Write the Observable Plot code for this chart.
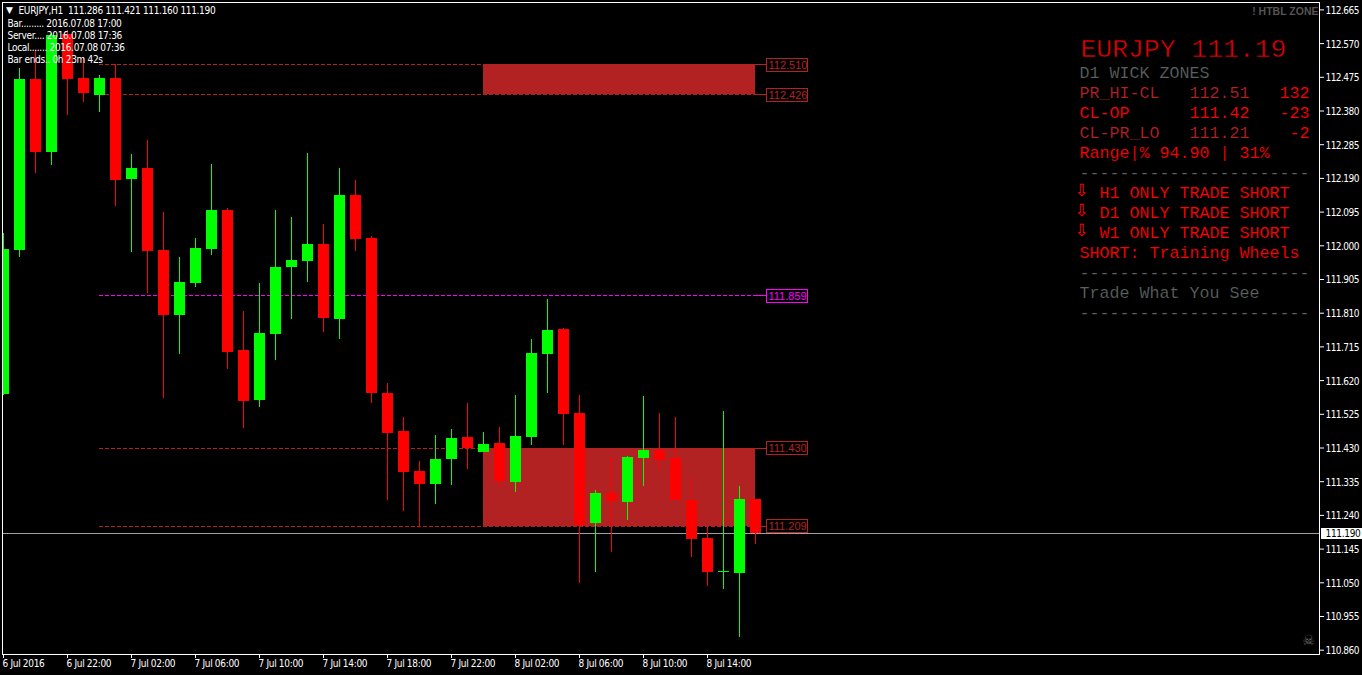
<!DOCTYPE html>
<html><head><meta charset="utf-8">
<script src="https://cdn.jsdelivr.net/npm/d3@7"></script>
<script src="https://cdn.jsdelivr.net/npm/@observablehq/plot@0.6"></script>
<style>html,body{margin:0;padding:0;background:#000;overflow:hidden}svg{display:block}
g[font-family*="Condensed"],text[font-family*="Condensed"]{letter-spacing:-.32px}
g[aria-label="y-axis tick label"],g[aria-label="last price label"]{letter-spacing:-.55px}
g[aria-label="y-axis tick label"] text,g[aria-label="last price label"] text{letter-spacing:-.55px}
</style>
</head><body><div id="chart"></div>
<script>
const opens  = [111.582,111.989,112.470,112.265,112.597,112.473,112.425,112.473,112.188,112.220,111.988,111.805,111.895,111.991,112.101,111.706,111.565,111.752,111.940,111.957,112.005,111.794,112.143,112.022,111.585,111.478,111.365,111.329,111.399,111.461,111.419,111.444,111.334,111.461,111.695,111.766,111.529,111.219,111.303,111.278,111.402,111.424,111.402,111.283,111.176,111.081,111.078,111.286];
const highs  = [112.036,112.501,112.552,112.600,112.609,112.532,112.482,112.513,112.259,112.298,112.095,111.969,112.022,112.231,112.107,111.816,111.895,112.101,112.081,112.262,112.062,112.220,112.186,112.028,111.613,111.518,111.393,111.467,111.484,111.557,111.475,111.489,111.580,111.737,111.850,111.768,111.580,111.312,111.405,111.408,111.577,111.529,111.518,111.348,111.210,111.534,111.323,111.286];
const lows   = [111.580,111.969,112.206,112.228,112.369,112.406,112.377,112.112,111.984,111.867,111.572,111.695,111.885,111.974,111.653,111.487,111.546,111.678,111.794,111.898,111.757,111.737,111.986,111.557,111.283,111.252,111.208,111.272,111.326,111.371,111.419,111.323,111.306,111.439,111.585,111.439,111.049,111.081,111.137,111.227,111.323,111.368,111.283,111.123,111.041,111.033,110.897,111.160];
const closes = [111.991,112.470,112.265,112.595,112.470,112.431,112.473,112.186,112.220,111.986,111.805,111.898,111.994,112.101,111.702,111.563,111.754,111.940,111.960,112.005,111.797,112.143,112.019,111.585,111.472,111.363,111.329,111.399,111.458,111.430,111.441,111.337,111.464,111.698,111.763,111.526,111.213,111.303,111.281,111.405,111.424,111.396,111.283,111.174,111.081,111.084,111.286,111.190];
const firstBar = Date.UTC(2016,6,6,18);
const hour = 3600e3;
const barTimes = opens.map((_,i)=>new Date(firstBar+i*hour));
const priceTicks = [112.665,112.570,112.475,112.380,112.285,112.190,112.095,112.000,111.905,111.810,111.715,111.620,111.525,111.430,111.335,111.240,111.145,111.050,110.955,110.860];
const timeLabels = ["6 Jul 2016","6 Jul 22:00","7 Jul 02:00","7 Jul 06:00","7 Jul 10:00","7 Jul 14:00","7 Jul 18:00","7 Jul 22:00","8 Jul 02:00","8 Jul 06:00","8 Jul 10:00","8 Jul 14:00"];
const timeTicks = timeLabels.map((_,i)=>barTimes[i*4]);
const levelPrices = [112.510,112.426,111.859,111.430,111.209];
const levelMagenta = [false,false,true,false,false];
const zoneTops = [112.510,111.430];
const zoneBottoms = [112.426,111.209];
const lastPrice = 111.190;

const bars = barTimes.map((t,i)=>({t,o:opens[i],h:highs[i],l:lows[i],c:closes[i],up:closes[i]>=opens[i]}));
const levels = levelPrices.map((p,i)=>({p,col:levelMagenta[i]?"#ff00ff":"#b22222"}));
const zones = zoneTops.map((top,i)=>({top,bottom:zoneBottoms[i]}));

const zoneStart = barTimes[30], zoneEnd = barTimes[47], lineStart = barTimes[6];
const pxPerHour = 16;
const afterEnd = px => new Date(+zoneEnd + px/pxPerHour*hour);

const NARROW = "'DejaVu Sans Condensed','DejaVu Sans',sans-serif";
const SANS = "'Liberation Sans',Arial,sans-serif";
const MONO = "'Liberation Mono','Courier New',monospace";
const RED="#ff0000", BRICK="#b22222", DIM="#5c6060";

const panel = (s,dx,dy,fill,opt={}) => Plot.text([s],{frameAnchor:"top-left",textAnchor:"start",lineAnchor:"middle",dx:dx-2,dy:dy-2,fill,fontFamily:MONO,fontSize:16.67,stroke:"#000",strokeWidth:0.15,paintOrder:"normal",...opt});
const arrow = (dy)=>panel("\u21E9",1074,dy,RED,{fontFamily:"'DejaVu Sans'",fontSize:17,stroke:"none"});
const overlayWhite = (s,dx,dy)=>Plot.text([s],{frameAnchor:"top-left",textAnchor:"start",lineAnchor:"middle",dx:dx-2,dy:dy-2,fill:"#fff",fontFamily:NARROW,fontSize:10});

const dashes = "-----------------------";
const crisp = {shapeRendering:"crispEdges"};

const chart = Plot.plot({
  width:1362,height:675,marginLeft:2,marginTop:2,marginRight:43,marginBottom:21,
  style:{background:"#000",color:"#fff"},
  x:{type:"utc",domain:[barTimes[0],barTimes[47]],range:[3,755]},
  y:{domain:[112.665,110.860],range:[9.4,649.7]},
  marks:[
    Plot.rect(zones,{x1:()=>zoneStart,x2:()=>zoneEnd,y1:"top",y2:"bottom",fill:BRICK,...crisp}),
    Plot.ruleY([lastPrice],{stroke:"#a0a0a0",strokeWidth:1,...crisp}),
    Plot.ruleY(levels,{y:"p",x1:()=>lineStart,x2:()=>afterEnd(1),stroke:"col",strokeDasharray:"4,2",strokeWidth:1,...crisp}),
    Plot.ruleX(bars,{x:"t",y1:"l",y2:"h",dy:0.6,stroke:d=>d.up?"#00ff00":"#ff0000",strokeWidth:1,clip:true,...crisp}),
    Plot.ruleX(bars,{x:"t",y1:"o",y2:"c",dy:0.6,stroke:d=>d.up?"#00ff00":"#ff0000",strokeWidth:11,clip:true,...crisp}),
    Plot.ruleY(levels,{y:"p",x1:()=>afterEnd(1),x2:()=>afterEnd(11),stroke:"col",strokeWidth:1,...crisp}),
    Plot.rect(levels,{x1:()=>afterEnd(11),x2:()=>afterEnd(52),y1:"p",y2:"p",insetTop:-6,insetBottom:-7,fill:"#000",stroke:"col",strokeWidth:1,...crisp}),
    Plot.text(levels,{x:()=>afterEnd(11),y:"p",dx:2,dy:0.5,text:d=>d.p.toFixed(3),textAnchor:"start",fill:"col",fontFamily:SANS,fontSize:11}),

    // top-left chart info
    Plot.text(["\u25BC"],{frameAnchor:"top-left",dx:7,dy:8,textAnchor:"middle",lineAnchor:"middle",fill:"#fff",fontSize:9,fontFamily:"'DejaVu Sans'"}),
    overlayWhite("EURJPY,H1  111.286 111.421 111.160 111.190",18,10.5),
    overlayWhite("Bar......... 2016.07.08 17:00",7,23.5),
    overlayWhite("Server.... 2016.07.08 17:36",7,35.5),
    overlayWhite("Local....... 2016.07.08 07:36",7,47.5),
    overlayWhite("Bar ends.. 0h 23m 42s",7,59.5),

    // right-hand panel
    Plot.text(["! HTBL ZONE"],{frameAnchor:"top-left",dx:1316,dy:9,textAnchor:"end",lineAnchor:"middle",fill:"#555",fontWeight:"bold",fontFamily:SANS,fontSize:10.5}),
    panel("EURJPY 111.19",1080,48,"#e00000",{fontSize:26.4,strokeWidth:0.5}),
    panel("D1 WICK ZONES",1079,72.5,DIM),
    panel("PR_HI-CL",1079,92.5,BRICK),panel("112.51",1189,92.5,BRICK),panel("132",1279,92.5,RED),
    panel("CL-OP",1079,112.5,RED),panel("111.42",1189,112.5,RED),panel("-23",1279,112.5,RED),
    panel("CL-PR_LO",1079,132.5,BRICK),panel("111.21",1189,132.5,BRICK),panel("-2",1289,132.5,RED),
    panel("Range|% 94.90 | 31%",1079,152.5,RED),
    panel(dashes,1079,172.5,DIM),
    arrow(190),panel("H1 ONLY TRADE SHORT",1099,192.5,RED),
    arrow(210),panel("D1 ONLY TRADE SHORT",1099,212.5,RED),
    arrow(230),panel("W1 ONLY TRADE SHORT",1099,232.5,RED),
    panel("SHORT: Training Wheels",1079,252.5,RED),
    panel(dashes,1079,272.5,DIM),
    panel("Trade What You See",1079,292.5,DIM),
    panel(dashes,1079,312.5,DIM),
    Plot.text(["\u2620"],{frameAnchor:"top-left",dx:1306,dy:638,textAnchor:"middle",lineAnchor:"middle",fill:"#6a6a6a",fontFamily:"'DejaVu Sans'",fontSize:14}),

    Plot.frame({stroke:"#fff",strokeWidth:1,...crisp}),
    Plot.axisX(timeTicks,{anchor:"bottom",tickSize:4,stroke:"#fff",fill:"none",label:null}),
    Plot.axisX(timeTicks,{anchor:"bottom",tickSize:0,tickPadding:4,fill:"#fff",textAnchor:"start",dx:-1,dy:1,
      tickFormat:d=>timeLabels[timeTicks.findIndex(t=>+t===+d)],fontFamily:NARROW,fontSize:10,label:null}),
    Plot.axisY(priceTicks,{anchor:"right",tickSize:4,stroke:"#fff",fill:"none",label:null}),
    Plot.axisY(priceTicks,{anchor:"right",tickSize:0,tickPadding:6,dy:0.7,fill:"#fff",tickFormat:d3.format(".3f"),fontFamily:NARROW,fontSize:10,label:null}),
    Plot.rect([lastPrice],{x1:()=>afterEnd(566),x2:()=>afterEnd(607),y1:d=>d,y2:d=>d,insetTop:-5,insetBottom:-6,fill:"#fff",...crisp}),
    Plot.text([lastPrice],{x:()=>afterEnd(570),y:d=>d,dy:0.7,text:d=>d.toFixed(3),textAnchor:"start",fill:"#000",fontFamily:NARROW,fontSize:10,ariaLabel:"last price label"})
  ]
});
document.getElementById("chart").append(chart);
</script></body></html>
